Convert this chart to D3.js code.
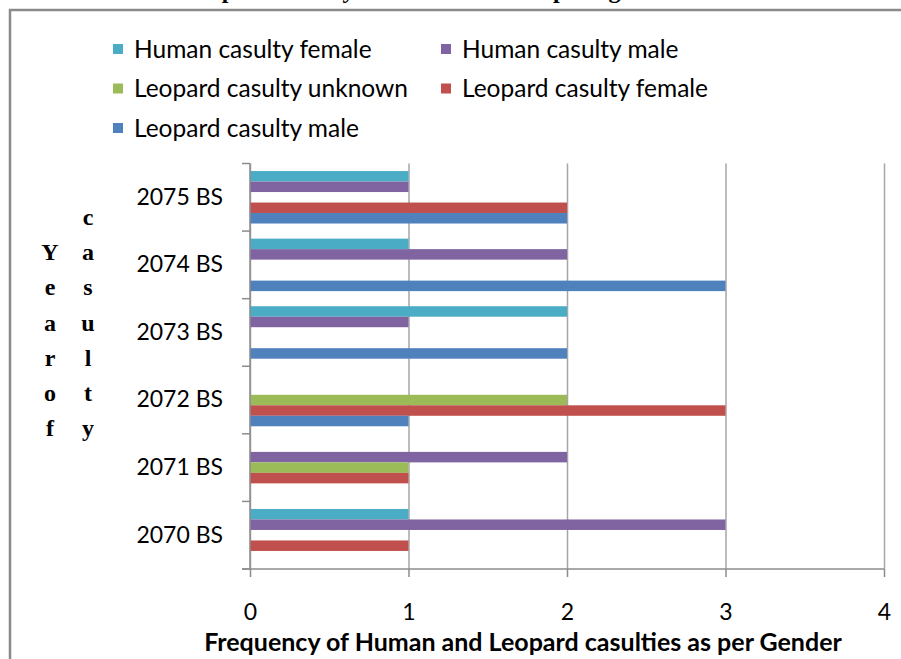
<!DOCTYPE html>
<html>
<head>
<meta charset="utf-8">
<script src="https://cdn.jsdelivr.net/npm/d3@7"></script>
<style>
  body { margin: 0; background: #fff; }
  svg { display: block; }
  .tick text { font-family: Lato, 'Open Sans', sans-serif; fill: #000; }
</style>
</head>
<body>
<div id="chart"></div>
<script>
// data
var years = ['2075 BS', '2074 BS', '2073 BS', '2072 BS', '2071 BS', '2070 BS']
var seriesNames = ['Human casulty female', 'Human casulty male', 'Leopard casulty unknown', 'Leopard casulty female', 'Leopard casulty male']
var seriesColors = ['#4bacc6', '#8064a2', '#9bbb59', '#c0504d', '#4f81bd']
var humanFemale = [1, 1, 2, 0, 0, 1]
var humanMale = [1, 2, 1, 0, 2, 3]
var leopardUnknown = [0, 0, 0, 2, 1, 0]
var leopardFemale = [2, 0, 0, 3, 1, 1]
var leopardMale = [2, 3, 2, 1, 0, 0]
var xTicks = [0, 1, 2, 3, 4]
var chartTitle = 'Temporal casulty of Human and Leopard gender wise'
var xTitle = 'Frequency of Human and Leopard casulties as per Gender'
var yTitleCols = ['Year of', 'casulty']

var svgWidth = 901
var svgHeight = 659
var margin = {left: 250, right: 17, top: 163.5, bottom: 90}
var chartWidth = svgWidth - margin.left - margin.right
var chartHeight = svgHeight - margin.top - margin.bottom
var gridColor = '#a6a6a6'
var axisColor = '#8c8c8c'

var seriesValues = [humanFemale, humanMale, leopardUnknown, leopardFemale, leopardMale]
var data = years.map(function (y, i) {
  return {
    year: y,
    values: seriesNames.map(function (s, k) { return {key: s, color: seriesColors[k], value: seriesValues[k][i]} })
  }
})

var svg = d3.select('#chart').append('svg')
  .attr('width', svgWidth)
  .attr('height', svgHeight)

// outer frame of the chart (runs off right / bottom)
svg.append('rect')
  .attr('x', 10).attr('y', 10)
  .attr('width', 1000).attr('height', 1000)
  .attr('fill', '#fff')
  .attr('stroke', '#8a8a8a')
  .attr('stroke-width', 2.5)

// title, cut off by the top edge like in the source
svg.append('text')
  .attr('x', 453).attr('y', -2)
  .attr('text-anchor', 'middle')
  .style('font-family', "'Liberation Serif', serif")
  .style('font-weight', 'bold')
  .style('font-size', '24px')
  .text(chartTitle)

var xScale = d3.scaleLinear()
  .domain([0, 4])
  .range([0, chartWidth])

var y0 = d3.scaleBand()
  .domain(years)
  .range([0, chartHeight])

var y1 = d3.scaleBand()
  .domain(seriesNames)
  .range([0, y0.bandwidth()])
  .paddingOuter(0.72)

var chart = svg.append('g')
  .attr('transform', 'translate(' + margin.left + ',' + margin.top + ')')

// vertical gridlines
var grid = chart.append('g')
  .call(d3.axisBottom(xScale).tickValues(xTicks).tickSize(chartHeight).tickFormat(''))
grid.select('.domain').remove()
grid.selectAll('.tick line').attr('stroke', gridColor).attr('stroke-width', 1.5)

// bars
var groups = chart.selectAll('.yearg')
  .data(data)
  .enter()
  .append('g')
  .attr('class', 'yearg')
  .attr('transform', function (d) { return 'translate(0,' + y0(d.year) + ')' })

groups.selectAll('rect')
  .data(function (d) { return d.values })
  .enter()
  .append('rect')
  .attr('x', xScale(0))
  .attr('y', function (d) { return y1(d.key) })
  .attr('width', function (d) { return xScale(d.value) - xScale(0) })
  .attr('height', y1.bandwidth())
  .attr('fill', function (d) { return d.color })

// x axis
var xAxisG = chart.append('g')
  .attr('transform', 'translate(0,' + chartHeight + ')')
  .call(d3.axisBottom(xScale).tickValues(xTicks).tickFormat(d3.format('d'))
    .tickSize(8).tickPadding(27).tickSizeOuter(0))
xAxisG.select('.domain').attr('stroke', axisColor).attr('stroke-width', 1.5)
  .attr('d', 'M-8,0H' + chartWidth)
xAxisG.selectAll('.tick line').attr('stroke', axisColor).attr('stroke-width', 1.5)
xAxisG.selectAll('.tick text').style('font-size', '23px')

// y axis: labels at band centres, tick marks on band edges
var yAxisG = chart.append('g')
  .call(d3.axisLeft(y0).tickSize(0).tickPadding(27))
yAxisG.select('.domain').attr('stroke', axisColor).attr('stroke-width', 1.5)
  .attr('d', 'M0,0V' + chartHeight)
yAxisG.selectAll('.tick text').style('font-size', '23px')
var edges = years.map(function (y) { return y0(y) }).concat([chartHeight])
chart.append('g').selectAll('line')
  .data(edges)
  .enter()
  .append('line')
  .attr('x1', -8).attr('x2', 0)
  .attr('y1', function (d) { return d }).attr('y2', function (d) { return d })
  .attr('stroke', axisColor)
  .attr('stroke-width', 1.5)

// x axis title
svg.append('text')
  .attr('x', 523).attr('y', 651)
  .attr('text-anchor', 'middle')
  .style('font-family', "Lato, 'Open Sans', sans-serif")
  .style('font-weight', 'bold')
  .style('font-size', '25px')
  .text(xTitle)

// y axis title, stacked letters in two columns
var colX = [50, 88]
var rowStep = 35.3
var firstRow = 217
yTitleCols.forEach(function (word, c) {
  var letters = word.replace(/ /g, '').split('')
  var startRow = c === 0 ? 1 : 0
  svg.append('g').selectAll('text')
    .data(letters)
    .enter()
    .append('text')
    .attr('x', colX[c])
    .attr('y', function (d, i) { return firstRow + (startRow + i) * rowStep })
    .attr('dy', '0.32em')
    .attr('text-anchor', 'middle')
    .style('font-family', "'Liberation Serif', serif")
    .style('font-weight', 'bold')
    .style('font-size', '24px')
    .text(function (d) { return d })
})

// legend
var legend = svg.append('g')
var legendCols = [113, 441]
var legendRows = [49, 88.5, 128]
var items = legend.selectAll('g')
  .data(seriesNames)
  .enter()
  .append('g')
  .attr('transform', function (d, i) {
    return 'translate(' + legendCols[i % 2] + ',' + legendRows[Math.floor(i / 2)] + ')'
  })
items.append('rect')
  .attr('x', 0).attr('y', -5)
  .attr('width', 10).attr('height', 10)
  .attr('fill', function (d, i) { return seriesColors[i] })
items.append('text')
  .attr('x', 21).attr('dy', '0.35em')
  .style('font-family', "Lato, 'Open Sans', sans-serif")
  .style('font-size', '24.5px')
  .text(function (d) { return d })
</script>
</body>
</html>
